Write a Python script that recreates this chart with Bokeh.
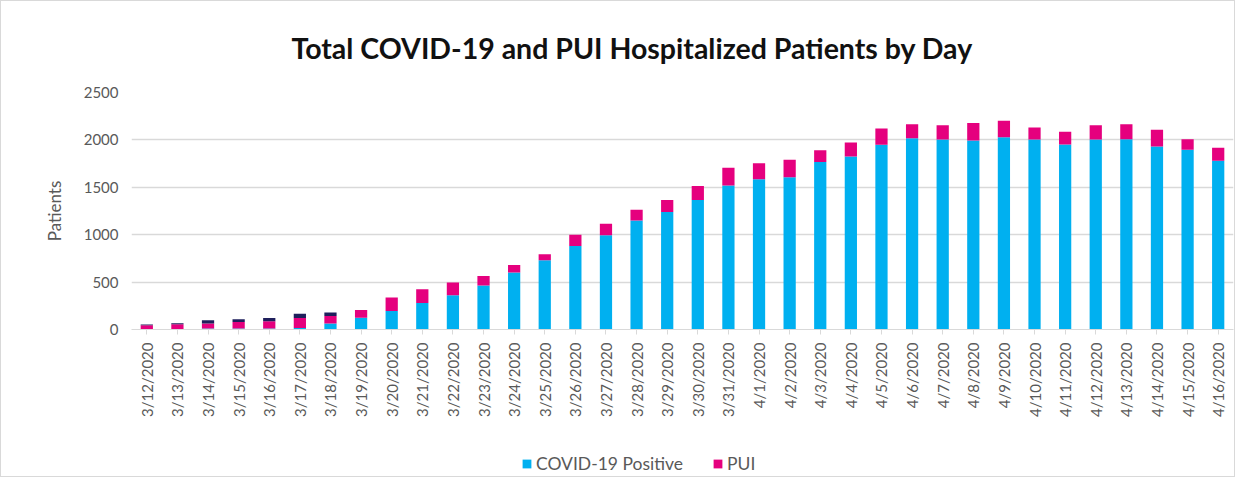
from bokeh.plotting import figure
from bokeh.layouts import column
from bokeh.models import ColumnDataSource, Legend, LegendItem, Range1d
from bokeh.embed import file_html
from bokeh.resources import INLINE
import math

dates = ["3/12/2020", "3/13/2020", "3/14/2020", "3/15/2020", "3/16/2020", "3/17/2020",
         "3/18/2020", "3/19/2020", "3/20/2020", "3/21/2020", "3/22/2020", "3/23/2020",
         "3/24/2020", "3/25/2020", "3/26/2020", "3/27/2020", "3/28/2020", "3/29/2020",
         "3/30/2020", "3/31/2020", "4/1/2020", "4/2/2020", "4/3/2020", "4/4/2020",
         "4/5/2020", "4/6/2020", "4/7/2020", "4/8/2020", "4/9/2020", "4/10/2020",
         "4/11/2020", "4/12/2020", "4/13/2020", "4/14/2020", "4/15/2020", "4/16/2020"]

covid_positive = [0, 0, 10, 10, 10, 17, 63, 125, 195, 280, 360, 465,
                  600, 730, 880, 995, 1150, 1240, 1367, 1520, 1585, 1605, 1768, 1825,
                  1950, 2018, 2004, 1994, 2029, 2004, 1952, 2004, 2008, 1931, 1895, 1779]

pui = [45, 55, 53, 70, 77, 105, 80, 82, 142, 145, 135, 100,
       80, 65, 120, 120, 112, 127, 148, 185, 170, 185, 124, 148,
       170, 148, 151, 183, 172, 127, 133, 151, 158, 175, 113, 137]

other = [8, 10, 35, 28, 35, 45, 36, 0, 0, 0, 0, 0,
         0, 0, 0, 0, 0, 0, 0, 0, 0, 0, 0, 0,
         0, 0, 0, 0, 0, 0, 0, 0, 0, 0, 0, 0]

y_ticks = [0, 500, 1000, 1500, 2000, 2500]
series_names = ["COVID-19 Positive", "PUI"]
colors = ["#00B0F0", "#E5007E", "#1F1F5C"]

source = ColumnDataSource(dict(date=dates, covid=covid_positive, pui=pui, other=other))

p = figure(x_range=dates, width=1233, height=430, output_backend="svg",
           toolbar_location=None, title="Total COVID-19 and PUI Hospitalized Patients by Day",
           min_border_left=130, min_border_right=1, min_border_top=91, min_border_bottom=102)
p.y_range = Range1d(0, 2500)

rs = p.vbar_stack(["covid", "pui", "other"], x="date", width=0.4, source=source,
                  color=colors, line_color=None)

p.title.text_font = "Lato"
p.title.text_font_style = "bold"
p.title.text_font_size = "28.5px"
p.title.text_color = "#111111"
p.title.align = "left"
p.title.offset = 160
p.title.standoff = 55

p.yaxis.ticker = y_ticks
p.yaxis.axis_line_color = None
p.yaxis.major_tick_line_color = None
p.yaxis.minor_tick_line_color = None
p.yaxis.major_label_text_font = "Lato"
p.yaxis.major_label_text_font_size = "15px"
p.yaxis.major_label_text_color = "#595959"
p.yaxis.major_label_standoff = 7
p.yaxis.axis_label = "Patients"
p.yaxis.axis_label_text_font = "Lato"
p.yaxis.axis_label_text_font_style = "normal"
p.yaxis.axis_label_text_font_size = "17px"
p.yaxis.axis_label_text_color = "#595959"
p.yaxis.axis_label_standoff = 16

p.xaxis.axis_line_color = "#d9d9d9"
p.xaxis.major_tick_line_color = "#d9d9d9"
p.xaxis.major_tick_in = 0
p.xaxis.major_tick_out = 5
p.xaxis.major_label_orientation = math.pi / 2
p.xaxis.major_label_text_font = "Lato"
p.xaxis.major_label_text_font_size = "15px"
p.xaxis.major_label_text_color = "#595959"
p.xaxis.major_label_standoff = 8

p.xgrid.grid_line_color = None
p.ygrid.grid_line_color = "#d9d9d9"
p.ygrid.grid_line_width = 1.5
p.outline_line_color = None

# separate strip for the legend: same stacked bars, kept below its visible range
leg = figure(x_range=dates, width=1233, height=45, output_backend="svg",
             toolbar_location=None, y_range=Range1d(5000, 6000), min_border=0)
leg.axis.visible = False
leg.grid.visible = False
leg.outline_line_color = None
lr = leg.vbar_stack(["covid", "pui"], x="date", width=0.4, source=source,
                    color=colors[:2], line_color=None)
legend = Legend(items=[LegendItem(label=series_names[0], renderers=[lr[0]]),
                       LegendItem(label=series_names[1], renderers=[lr[1]])],
                orientation="horizontal", location=(390, 2),
                label_text_font="Lato", label_text_font_size="17.5px",
                label_text_color="#595959", glyph_width=11, glyph_height=11,
                spacing=29, border_line_color=None, background_fill_alpha=0,
                margin=0, padding=4, label_standoff=4)
leg.add_layout(legend, "center")

layout = column(p, leg, spacing=0)
layout.styles = {"border": "1px solid #d9d9d9"}

open("out.html", "w").write(file_html(layout, INLINE))
